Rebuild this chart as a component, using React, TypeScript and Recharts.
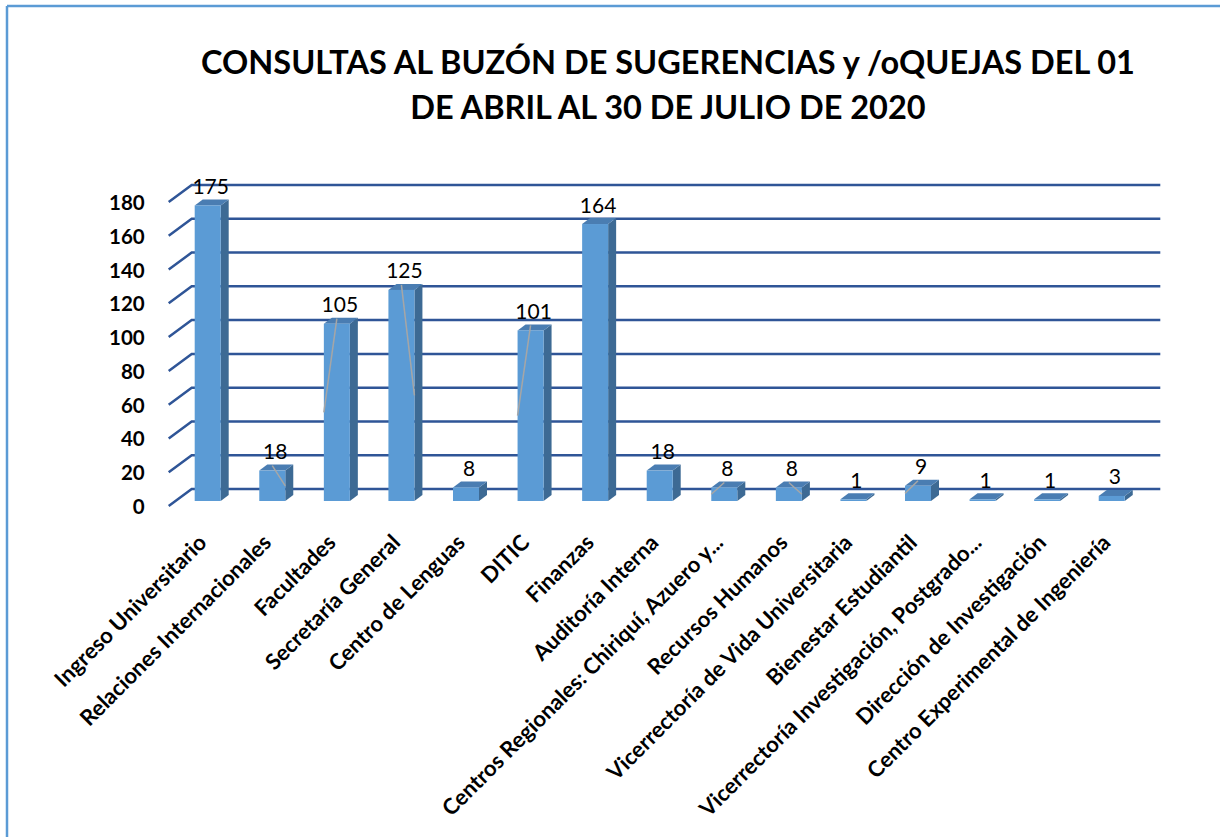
import { Bar, BarChart, CartesianGrid, LabelList, XAxis, YAxis } from "recharts";

const categories = [
  "Ingreso Universitario",
  "Relaciones Internacionales",
  "Facultades",
  "Secretaría General",
  "Centro de Lenguas",
  "DITIC",
  "Finanzas",
  "Auditoría Interna",
  "Centros Regionales: Chiriquí, Azuero y...",
  "Recursos Humanos",
  "Vicerrectoría de Vida Universitaria",
  "Bienestar Estudiantil",
  "Vicerrectoría Investigación, Postgrado...",
  "Dirección de Investigación",
  "Centro Experimental de Ingeniería",
];
const values = [175, 18, 105, 125, 8, 101, 164, 18, 8, 8, 1, 9, 1, 1, 3];
const yTicks = [0, 20, 40, 60, 80, 100, 120, 140, 160, 180];
// leader lines left by Excel on some data labels: "L" / "R" = bar edge they run to
const leaderSides = ["", "R", "L", "R", "", "L", "", "", "L", "R", "", "L", "", "", ""];

const data = categories.map((name, i) => ({ name, value: values[i], leader: leaderSides[i] }));

const FONT = "Lato, 'Open Sans', sans-serif";
const DX = 8;
const DY = 6;

function Bar3D(props: any) {
  const { x, y, width, height, payload } = props;
  const b = y + height;
  const r = x + width;
  let leader = null;
  if (payload.leader) {
    const ex = payload.leader === "L" ? x : r;
    leader = (
      <line x1={x + width / 2} y1={y - 5} x2={ex} y2={y + height / 2} stroke="#a6a6a6" strokeWidth={1.5} />
    );
  }
  return (
    <g>
      <polygon points={`${r},${y} ${r + DX},${y - DY} ${r + DX},${b - DY} ${r},${b}`} fill="#3d6a94" />
      <polygon points={`${x},${y} ${r},${y} ${r + DX},${y - DY} ${x + DX},${y - DY}`} fill="#4a7db2" />
      <rect x={x} y={y} width={width} height={Math.max(height, 0.5)} fill="#5b9bd5" />
      {leader}
    </g>
  );
}

function GridLine(props: any) {
  const { x1, x2, y1, key } = props;
  return (
    <polyline
      key={key}
      points={`${x1 - 7},${y1 + 5} ${x1 + 16},${y1 - 12} ${x2 + 16},${y1 - 12}`}
      fill="none"
      stroke="#2f5597"
      strokeWidth={2.5}
    />
  );
}

function YTick(props: any) {
  const { x, y, payload } = props;
  return (
    <text x={x} y={y + 5} textAnchor="end" dominantBaseline="central" fontFamily={FONT} fontWeight="bold" fontSize={20.5} fill="#000">
      {payload.value}
    </text>
  );
}

function XTick(props: any) {
  const { x, y, payload } = props;
  const ax = x;
  const ay = y + 35;
  return (
    <text
      x={ax}
      y={ay}
      textAnchor="end"
      transform={`rotate(-45, ${ax}, ${ay})`}
      fontFamily={FONT}
      fontWeight="bold"
      fontSize={22}
      fill="#000"
    >
      {payload.value}
    </text>
  );
}

function ValueLabel(props: any) {
  const { x, y, width, value } = props;
  return (
    <text x={x + width / 2 + 3} y={y - 20} textAnchor="middle" dominantBaseline="central" fontFamily={FONT} fontSize={21} fill="#000">
      {value}
    </text>
  );
}

export default function App() {
  return (
    <div style={{ position: "absolute", left: 0, top: 0, width: 1220, height: 837, background: "#fff", overflow: "hidden" }}>
      <svg width={1220} height={837} style={{ position: "absolute", left: 0, top: 0 }}>
        <line x1={7} y1={6} x2={7} y2={837} stroke="#5b9bd5" strokeWidth={2.5} />
        <line x1={7} y1={6} x2={1220} y2={6} stroke="#5b9bd5" strokeWidth={2.5} />
      </svg>
      <div
        style={{
          position: "absolute",
          left: 168,
          top: 39,
          width: 1000,
          textAlign: "center",
          fontFamily: FONT,
          fontWeight: "bold",
          fontSize: 32.5,
          lineHeight: "45px",
          color: "#000",
        }}
      >
        CONSULTAS AL BUZÓN DE SUGERENCIAS y /oQUEJAS DEL 01
        <br />
        DE ABRIL AL 30 DE JULIO DE 2020
      </div>
      <div style={{ position: "absolute", left: 0, top: 0 }}>
        <BarChart width={1220} height={837} data={data} margin={{ top: 197, right: 75.7, bottom: 306, left: 115.7 }}>
          <CartesianGrid vertical={false} horizontal={GridLine as any} />
          <XAxis dataKey="name" interval={0} height={30} axisLine={false} tickLine={false} tick={<XTick />} />
          <YAxis
            width={60}
            domain={[0, 180]}
            ticks={yTicks}
            axisLine={false}
            tickLine={false}
            tickMargin={25}
            tick={<YTick />}
          />
          <Bar dataKey="value" barSize={26} shape={<Bar3D />} isAnimationActive={false}>
            <LabelList dataKey="value" content={<ValueLabel />} />
          </Bar>
        </BarChart>
      </div>
    </div>
  );
}
